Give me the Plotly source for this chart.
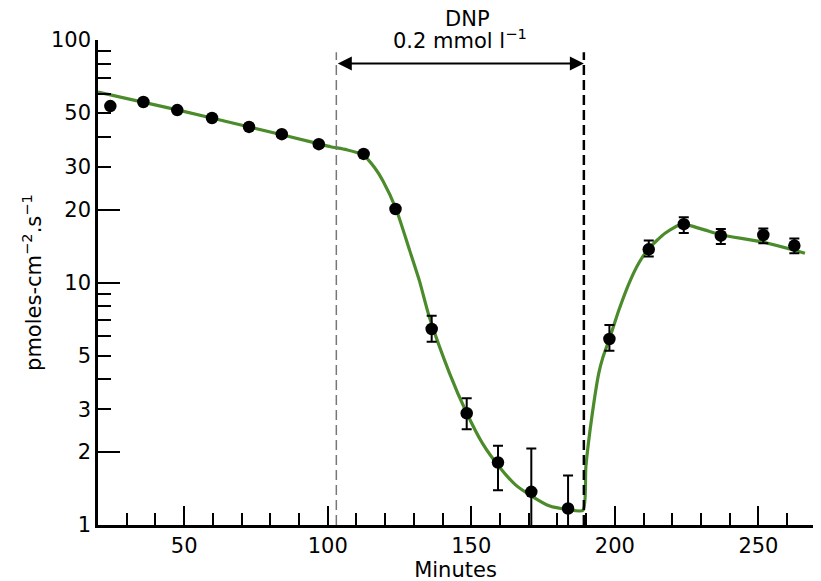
import numpy as np
import plotly.graph_objects as go

# ---------------- data ----------------
minutes = [24.3, 35.8, 47.6, 59.7, 72.6, 84.0, 96.9, 112.5, 123.6, 136.2,
           148.4, 159.3, 170.9, 183.7, 198.1, 211.8, 224.0, 236.9, 251.7, 262.5]
flux = [53.4, 55.5, 51.4, 47.7, 43.8, 40.9, 37.2, 33.9, 20.1, 6.43,
        2.89, 1.81, 1.37, 1.17, 5.85, 13.7, 17.4, 15.6, 15.7, 14.2]
flux_upper = [None, None, None, None, None, None, None, None, None, 7.3,
              3.33, 2.12, 2.07, 1.60, 6.68, 14.9, 18.6, 16.6, 16.7, 15.2]
flux_lower = [None, None, None, None, None, None, None, None, None, 5.7,
              2.48, 1.39, 0.8, 0.8, 5.23, 12.8, 16.0, 14.4, 14.5, 13.2]

fit_minutes = [20, 48, 72, 97, 101, 106.5, 112.3, 116.3, 119.2, 123.8, 128.5, 131.9,
               135.4, 142.4, 148.2, 153.9, 159.7, 165.5, 171.3, 177.1, 183.4,
               188.9, 189.9, 192.0, 194.4, 195.8, 198.3, 201.4, 204.9, 208.3,
               211.8, 217.6, 223.4, 230.3, 237.3, 251.2, 266.2]
fit_flux = [61.0, 51.4, 44.0, 37.3, 36.3, 35.3, 33.6, 29.8, 26.3, 20.1, 13.6, 10.2,
            7.2, 4.23, 2.93, 2.17, 1.74, 1.46, 1.31, 1.20, 1.16,
            1.15, 1.74, 2.80, 4.23, 4.9, 5.95, 7.7, 9.9, 12.0,
            13.8, 16.0, 17.4, 16.6, 15.7, 14.7, 13.2]

dnp_start = 103.0
dnp_end = 189.2
arrow_level = 80.0

y_labels = [1, 2, 3, 5, 10, 20, 30, 50, 100]
y_long_ticks = [1, 2, 10, 20, 100]
y_minor = [4, 6, 7, 8, 9, 40, 60, 70, 80, 90]

FONT = "DejaVu Sans"
GREEN = "#4b8b2b"

fig = go.Figure()

fig.add_trace(go.Scatter(x=fit_minutes, y=fit_flux, mode="lines",
                         line=dict(color=GREEN, width=3.2, shape="spline", smoothing=0.6),
                         hoverinfo="skip", showlegend=False))

# points without error bars
x_a = [m for m, u in zip(minutes, flux_upper) if u is None]
y_a = [f for f, u in zip(flux, flux_upper) if u is None]
fig.add_trace(go.Scatter(x=x_a, y=y_a, mode="markers",
                         marker=dict(color="black", size=12.5),
                         showlegend=False))

# points with error bars
idx = [i for i, u in enumerate(flux_upper) if u is not None]
x_b = [minutes[i] for i in idx]
y_b = [flux[i] for i in idx]
plus = [flux_upper[i] - flux[i] for i in idx]
minus = [flux[i] - flux_lower[i] for i in idx]
fig.add_trace(go.Scatter(x=x_b, y=y_b, mode="markers",
                         marker=dict(color="black", size=12.5),
                         error_y=dict(type="data", symmetric=False, array=plus,
                                      arrayminus=minus, color="black",
                                      thickness=2, width=5),
                         showlegend=False))

# invisible trace to activate yaxis2 (long ticks)
fig.add_trace(go.Scatter(x=[dnp_start], y=[10], yaxis="y2", mode="markers",
                         marker=dict(opacity=0), hoverinfo="skip", showlegend=False))

# DNP period lines
fig.add_shape(type="line", xref="x", yref="paper", x0=dnp_start, x1=dnp_start,
              y0=0, y1=0.975, line=dict(color="#777777", width=1.5, dash="10px,5px"))
fig.add_shape(type="line", xref="x", yref="paper", x0=dnp_end, x1=dnp_end,
              y0=0, y1=0.975, line=dict(color="black", width=2.5, dash="10px,5px"))

lv = float(np.log10(arrow_level))
fig.add_annotation(x=dnp_end, y=lv, xref="x", yref="y", ax=dnp_start, ay=lv,
                   axref="x", ayref="y", text="", showarrow=True,
                   arrowside="end+start", arrowhead=2, startarrowhead=2,
                   arrowsize=1.4, startarrowsize=1.4, arrowwidth=2, arrowcolor="black",
                   standoff=0, startstandoff=0)
mid = (dnp_start + dnp_end) / 2
fig.add_annotation(x=mid + 2.5, y=1.043, xref="x", yref="paper", text="DNP",
                   showarrow=False, font=dict(family=FONT, size=21, color="black"),
                   yanchor="middle")
fig.add_annotation(x=mid, y=1.002, xref="x", yref="paper",
                   text="0.2 mmol l<sup>−1</sup>",
                   showarrow=False, font=dict(family=FONT, size=21, color="black"),
                   yanchor="middle")

fig.update_layout(
    width=821, height=581,
    margin=dict(l=90, r=16, t=32, b=64),
    paper_bgcolor="white", plot_bgcolor="white",
    font=dict(family=FONT, size=21, color="black"),
    xaxis=dict(range=[20, 269], showline=True, linecolor="black", linewidth=2.5,
               ticks="inside", ticklen=19, tickwidth=2, tickcolor="black",
               tick0=0, dtick=50, showgrid=False, zeroline=False,
               minor=dict(ticks="inside", ticklen=12, tickwidth=2, tickcolor="black",
                          tick0=0, dtick=10, showgrid=False),
               tickfont=dict(family=FONT, size=21),
               title=dict(text="Minutes", font=dict(family=FONT, size=21), standoff=2),
               automargin=False),
    yaxis=dict(type="log", range=[0, 2], showline=True, linecolor="black", linewidth=2.5,
               ticks="inside", ticklen=13, tickwidth=2, tickcolor="black",
               tickmode="array", tickvals=y_labels, ticktext=[str(v) for v in y_labels],
               minor=dict(ticks="inside", ticklen=13, tickwidth=2, tickcolor="black",
                          tickmode="array", tickvals=y_minor, showgrid=False),
               showgrid=False, zeroline=False,
               tickfont=dict(family=FONT, size=21),
               title=dict(text="pmoles-cm<sup>−2</sup>.s<sup>−1</sup>",
                          font=dict(family=FONT, size=21), standoff=4),
               automargin=False),
    yaxis2=dict(type="log", range=[0, 2], overlaying="y", side="left", anchor="x",
                ticks="inside", ticklen=22, tickwidth=2, tickcolor="black",
                tickmode="array", tickvals=y_long_ticks, showticklabels=False,
                showgrid=False, zeroline=False, showline=False),
)

fig.write_html("out.html")
